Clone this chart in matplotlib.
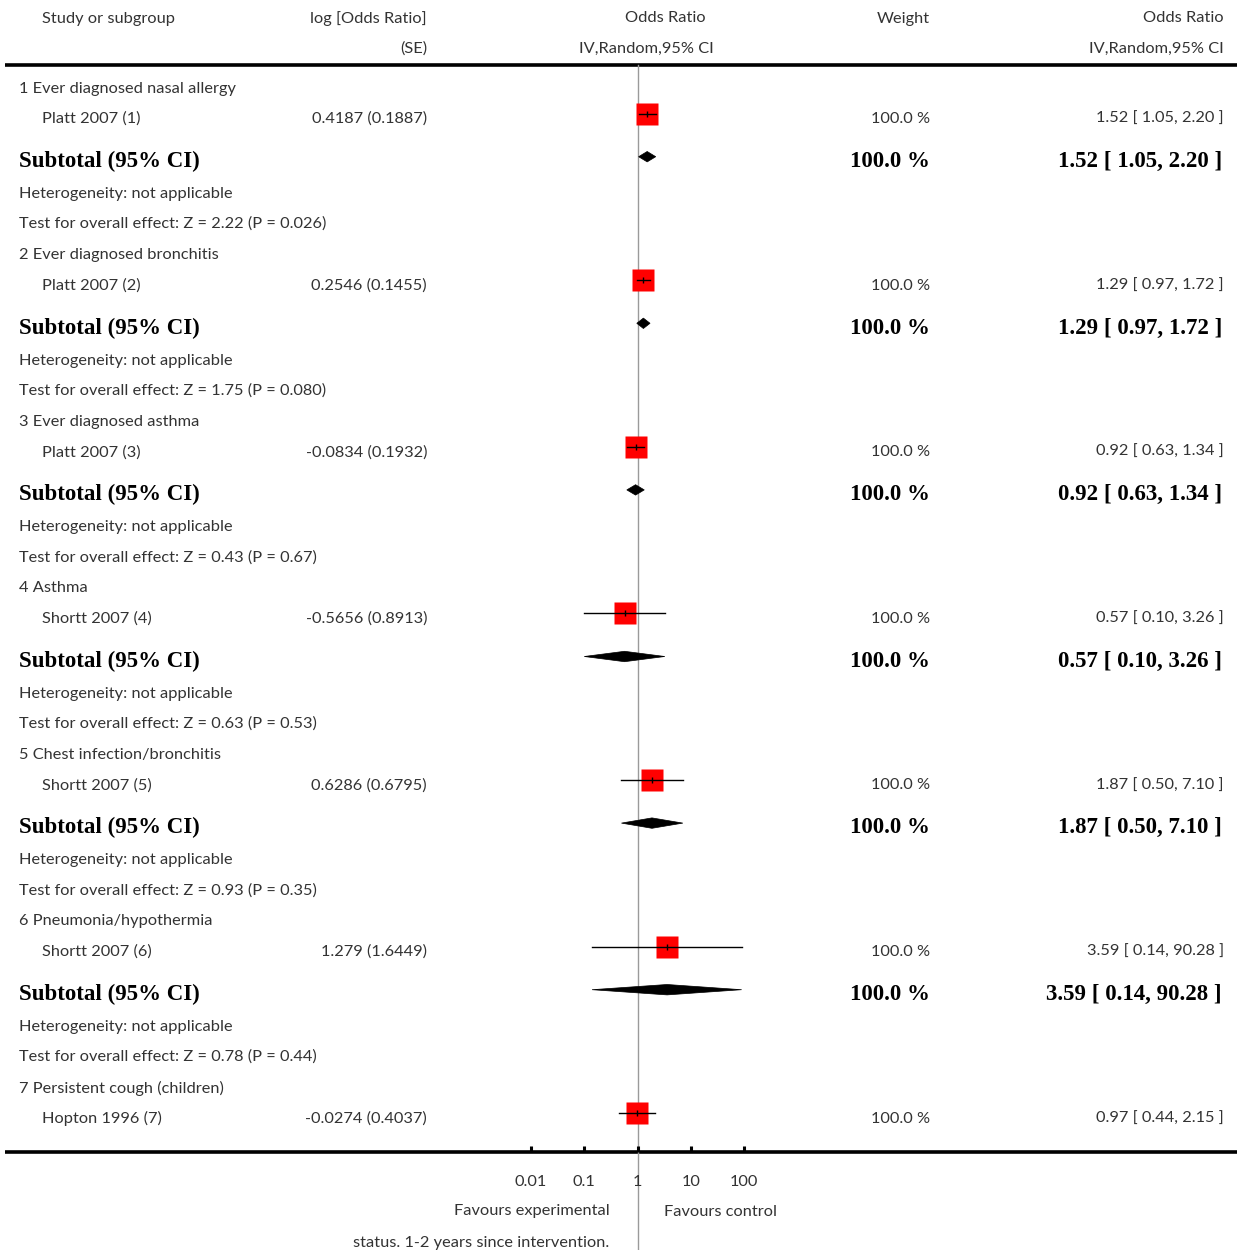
import matplotlib
matplotlib.use("Agg")
import matplotlib.pyplot as plt
from matplotlib.patches import Polygon

# ---- data ----
groups = ["1 Ever diagnosed nasal allergy", "2 Ever diagnosed bronchitis",
          "3 Ever diagnosed asthma", "4 Asthma", "5 Chest infection/bronchitis",
          "6 Pneumonia/hypothermia", "7 Persistent cough (children)"]
studies = ["Platt 2007 (1)", "Platt 2007 (2)", "Platt 2007 (3)", "Shortt 2007 (4)",
           "Shortt 2007 (5)", "Shortt 2007 (6)", "Hopton 1996 (7)"]
log_or = ["0.4187", "0.2546", "-0.0834", "-0.5656", "0.6286", "1.279", "-0.0274"]
se = ["0.1887", "0.1455", "0.1932", "0.8913", "0.6795", "1.6449", "0.4037"]
odds = [1.52, 1.29, 0.92, 0.57, 1.87, 3.59, 0.97]
ci_lo = [1.05, 0.97, 0.63, 0.10, 0.50, 0.14, 0.44]
ci_hi = [2.20, 1.72, 1.34, 3.26, 7.10, 90.28, 2.15]
weight = [100.0] * 7
z_vals = ["2.22", "1.75", "0.43", "0.63", "0.93", "0.78"]
p_vals = ["0.026", "0.080", "0.67", "0.53", "0.35", "0.44"]
tick_vals = [0.01, 0.1, 1, 10, 100]
tick_labels = ["0.01", "0.1", "1", "10", "100"]

W, H = 1242, 1250
fig = plt.figure(figsize=(W / 100, H / 100), dpi=100)
ax = fig.add_axes([0, 0, 1, 1])
ax.set_xlim(0, W)
ax.set_ylim(H, 0)
ax.axis("off")

# forest panel: log scale from 0.01 to 100
fx0, fx1 = 531, 744
fax = fig.add_axes([fx0 / W, 0, (fx1 - fx0) / W, 1])
fax.set_xscale("log")
fax.set_xlim(0.01, 100)
fax.set_ylim(H, 0)
fax.axis("off")

FONT = "Lato"
TC = "#333333"
FS = 11.8
reg = dict(family=FONT, fontweight="normal", fontsize=FS, color=TC, va="center")
bold = dict(family="Liberation Serif", fontweight="bold", fontsize=16.5, color="black", va="center")
dy = 1.5  # text sits slightly lower than the row line


def txt(x, y, s, ha, style, a=ax):
    a.text(x, y + dy, s, ha=ha, **style)


# header
txt(42, 17, "Study or subgroup", "left", reg)
txt(427, 17, "log [Odds Ratio]", "right", reg)
txt(427, 47, "(SE)", "right", reg)
txt(665, 17, "Odds Ratio", "center", reg)
txt(646, 47, "IV,Random,95% CI", "center", reg)
txt(903, 17, "Weight", "center", reg)
txt(1224, 17, "Odds Ratio", "right", reg)
txt(1224, 47, "IV,Random,95% CI", "right", reg)
ax.plot([5, 1237], [65, 65], color="black", lw=2.6, solid_capstyle="butt")

# line of no effect
fax.plot([1, 1], [65, H], color="#9a9a9a", lw=1.0, zorder=1)

base0, step = 87, 166.6
for k, g in enumerate(groups):
    y0 = base0 + step * k
    ys = y0 + 30.5
    txt(19, y0, g, "left", reg)
    txt(42, ys, studies[k], "left", reg)
    txt(427, ys, f"{log_or[k]} ({se[k]})", "right", reg)
    txt(930, ys, f"{weight[k]:.1f} %", "right", reg)
    txt(1224, ys, f"{odds[k]:.2f} [ {ci_lo[k]:.2f}, {ci_hi[k]:.2f} ]", "right", reg)

    ym = ys - 4.0
    fax.plot([odds[k]], [ym], marker="s", ms=15.8, color="#ff0000", mec="none", zorder=3)
    fax.plot([ci_lo[k], ci_hi[k]], [ym, ym], color="black", lw=1.0, zorder=4, clip_on=False)
    fax.plot([odds[k]], [ym], marker="|", ms=4, mew=1.0, color="black", zorder=5)

    if k < len(z_vals):
        yt = y0 + 73
        txt(19, yt, "Subtotal (95% CI)", "left", bold)
        txt(930, yt, f"{weight[k]:.1f} %", "right", bold)
        txt(1222, yt, f"{odds[k]:.2f} [ {ci_lo[k]:.2f}, {ci_hi[k]:.2f} ]", "right", bold)
        yd = yt - 3.3
        dia = Polygon([(ci_lo[k], yd), (odds[k], yd - 5.2), (ci_hi[k], yd), (odds[k], yd + 5.2)],
                      closed=True, facecolor="black", edgecolor="black", lw=0.5, zorder=4,
                      clip_on=False)
        fax.add_patch(dia)
        txt(19, y0 + 105.5, "Heterogeneity: not applicable", "left", reg)
        txt(19, y0 + 135.5, f"Test for overall effect: Z = {z_vals[k]} (P = {p_vals[k]})",
            "left", reg)

# bottom axis
ax.plot([5, 1237], [1152, 1152], color="black", lw=2.6, solid_capstyle="butt")
for tv, tl in zip(tick_vals, tick_labels):
    fax.plot([tv, tv], [1145.5, 1152], color="black", lw=2.2, solid_capstyle="butt", clip_on=False)
    txt(tv, 1180, tl, "center", reg, a=fax)
txt(610, 1210, "Favours experimental", "right", reg)
txt(664, 1210, "Favours control", "left", reg)
txt(609, 1241, "status. 1-2 years since intervention.", "right", reg)

fig.savefig("out.png", dpi=100)
